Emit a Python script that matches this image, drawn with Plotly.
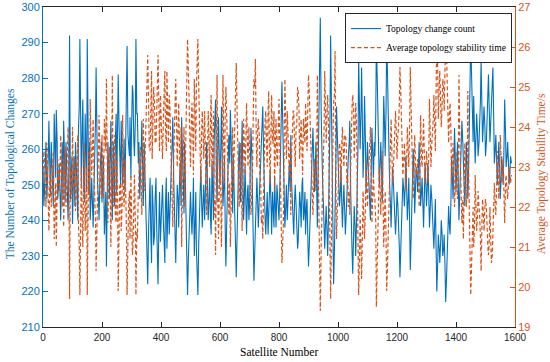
import plotly.graph_objects as go

# Topology change count, read every 5 satellites (0, 5, 10, ...)
topology_changes = [
    255,248,262,250,268,247,258,244,262,271,246,256,240,262,268,245,255,240,292,252,
    239,258,262,248,265,291,250,274,245,262,291,248,240,252,238,256,283,250,240,255,
    245,258,240,227,262,246,268,240,255,262,248,281,258,268,250,263,258,289,262,269,
    265,276,258,291,270,262,250,268,244,255,236,222,245,238,250,233,246,240,222,248,
    238,250,236,244,232,248,240,255,269,245,228,250,238,256,269,250,262,240,219,236,
    248,236,252,240,232,219,242,255,238,250,245,262,240,252,236,248,262,274,245,269,
    250,272,244,258,227,250,264,271,248,258,240,224,250,262,245,268,240,255,236,250,
    244,266,250,223,240,252,238,250,262,272,246,236,248,240,254,236,244,252,238,246,
    240,262,279,258,238,250,245,256,264,244,236,250,240,234,248,238,252,242,236,246,
    227,240,256,266,248,262,238,268,297,258,246,232,244,230,252,292,255,222,240,272,
    258,244,255,238,250,236,248,258,268,236,225,244,230,248,286,260,283,252,275,248,
    262,248,240,266,252,258,290,270,250,262,245,275,258,292,268,250,238,255,244,236,
    248,240,224,238,252,244,258,240,252,226,246,260,242,255,248,262,244,252,238,256,
    244,256,238,250,240,232,246,220,236,228,240,230,236,217,232,244,236,258,246,266,
    248,262,240,256,268,258,244,262,246,266,291,268,275,256,270,258,266,285,262,272,
    258,268,281,262,272,283,256,264,250,262,246,258,250,274,255,262,250,258,
]
# Topology change count, read at the satellites in between (3, 8, 13, ...)
topology_changes_between = [
    244,256,246,258,255,262,250,270,252,262,250,248,252,246,258,262,250,256,246,258,
    250,244,255,240,272,258,266,250,270,248,256,262,246,244,250,268,262,246,252,262,
    252,236,248,250,254,258,250,262,244,270,262,266,250,260,256,248,270,264,258,252,
    278,262,268,270,256,246,260,252,262,240,230,238,252,228,244,236,252,230,240,234,
    246,240,228,252,240,236,250,262,252,236,242,246,252,244,258,242,250,232,230,244,
    240,244,230,248,226,234,250,244,246,240,254,248,246,240,256,240,268,252,262,256,
    262,254,250,236,240,258,256,262,242,250,232,240,256,248,258,250,248,244,248,240,
    256,258,236,232,248,244,246,256,268,258,240,244,236,250,244,248,238,244,250,240,
    250,270,266,246,244,240,252,248,250,240,246,244,232,240,244,250,240,248,244,234,
    234,250,262,256,254,248,256,282,270,250,238,240,236,242,270,268,236,232,258,262,
    250,248,244,246,242,242,254,262,248,230,236,238,240,262,272,270,266,262,262,256,
    254,244,256,258,262,270,280,262,256,254,262,266,272,280,258,244,248,250,240,242,
    244,232,230,246,248,250,248,246,238,236,254,252,250,252,256,252,248,244,248,250,
    250,246,244,246,236,240,230,228,232,234,236,232,226,224,240,238,246,252,256,256,
    256,250,248,262,262,252,254,254,256,276,280,262,266,264,264,262,274,270,268,266,
    262,272,270,268,276,268,260,256,256,254,252,254,262,264,258,256,254,256,
]

# Average topology stability time (s), read every 5 satellites (0, 5, 10, ...)
stability_time = [
    22.6,23.2,22.0,23.0,21.4,23.1,22.3,23.4,22.0,21.0,23.2,22.4,23.8,22.0,21.5,23.5,22.6,24.0,19.7,22.8,
    24.0,22.4,21.9,23.2,21.6,19.8,23.0,21.0,23.6,22.0,19.8,23.4,24.7,22.8,24.2,22.4,20.4,23.0,24.3,22.6,
    23.8,22.2,24.0,25.2,21.6,23.5,21.0,25.3,22.8,21.8,23.3,19.9,22.5,21.4,24.3,22.0,22.6,19.8,22.0,21.2,
    22.0,21.0,22.8,19.8,21.2,22.6,23.5,21.8,24.2,23.0,24.8,25.8,23.5,24.6,23.2,25.0,23.6,24.2,25.8,23.4,
    24.4,23.2,25.0,24.0,25.4,23.6,24.5,22.8,21.5,23.8,25.2,23.0,24.6,22.6,21.0,23.2,22.0,24.4,26.2,24.6,
    23.0,24.6,22.8,24.2,25.0,26.2,24.0,22.6,24.4,23.2,23.8,21.8,24.4,23.0,24.8,23.4,21.8,20.8,25.3,21.2,
    23.2,21.0,25.3,22.6,25.0,23.0,21.8,21.0,23.4,22.4,24.2,25.6,23.2,22.0,23.6,21.4,24.2,22.8,24.6,23.0,
    23.6,21.8,22.8,25.2,25.7,23.0,24.2,22.8,21.6,21.2,23.4,24.4,23.0,24.9,22.6,24.8,23.6,22.4,24.2,23.0,
    24.7,22.2,20.6,21.6,25.2,23.2,23.8,22.8,21.8,24.0,24.4,23.0,24.0,24.9,23.2,24.2,22.8,23.8,24.6,23.4,
    25.3,24.2,22.8,21.8,23.2,22.4,25.3,22.0,19.4,21.6,22.8,25.4,23.6,24.8,22.8,19.7,22.4,24.6,25.9,21.2,
    22.2,23.6,22.6,24.0,23.0,23.8,22.6,22.0,21.8,23.8,24.8,23.2,24.6,22.8,19.8,21.8,20.2,22.4,21.2,23.2,
    22.0,23.4,24.0,21.6,22.8,22.2,19.5,21.2,23.0,21.8,23.4,21.0,22.4,19.9,21.4,23.0,24.2,22.6,23.6,24.4,
    23.2,24.0,25.5,24.2,22.8,23.6,22.4,24.0,23.0,25.5,23.4,22.2,23.8,22.8,23.2,22.0,24.3,23.0,24.2,22.6,
    23.4,22.6,24.7,23.0,23.8,24.8,23.4,26.6,24.2,25.4,24.0,25.2,24.4,26.5,25.0,23.6,24.6,22.6,23.6,22.0,
    23.4,22.2,25.3,23.0,21.6,21.2,23.6,22.0,24.9,22.0,19.8,21.6,21.0,22.8,21.4,22.4,21.8,20.4,22.2,21.4,
    22.2,21.4,20.8,22.0,20.6,21.2,22.6,21.8,23.4,22.2,23.8,22.6,23.2,21.6,22.8,22.2,23.0,22.6,
]
# Average topology stability time (s), read at the satellites in between (3, 8, 13, ...)
stability_time_between = [
    23.4,22.4,23.6,22.2,22.6,22.0,22.8,21.2,22.6,22.2,22.8,23.0,22.6,23.2,22.4,22.0,23.0,22.6,23.0,22.2,
    22.6,23.2,22.4,23.8,21.0,22.2,21.6,22.8,21.4,23.0,22.6,22.2,23.4,23.6,22.8,21.6,22.0,23.4,22.8,22.2,
    22.8,24.2,23.4,23.0,23.0,22.4,23.2,22.0,23.8,21.6,22.2,21.8,22.6,22.0,22.4,23.2,21.4,21.8,22.4,22.8,
    20.8,22.0,21.6,21.4,22.4,23.4,22.6,23.0,22.4,24.0,25.0,24.6,23.4,25.4,24.2,24.6,23.6,25.0,24.4,24.8,
    23.6,24.2,25.4,23.4,24.6,24.8,23.6,22.4,23.2,24.8,24.0,24.0,23.4,24.0,22.6,24.0,23.4,25.2,25.4,24.0,
    24.2,23.8,25.2,23.4,25.6,25.0,23.4,24.0,23.8,24.4,22.8,23.4,23.6,24.2,22.8,24.4,22.2,23.0,22.0,22.6,
    22.2,22.8,23.4,24.4,24.2,22.4,22.6,22.0,24.0,23.2,25.0,24.4,22.6,23.4,22.4,23.0,23.4,23.8,23.6,24.0,
    22.6,22.4,24.4,25.0,23.6,24.0,23.8,22.6,21.8,22.4,24.2,23.8,24.4,23.2,24.0,23.6,24.4,23.8,23.2,24.2,
    23.4,21.4,21.2,24.0,24.0,24.4,23.0,23.6,23.4,24.4,23.8,24.0,25.0,24.4,23.8,23.4,24.2,23.6,23.8,24.6,
    24.8,23.2,22.2,22.6,22.8,23.4,23.0,20.6,21.0,22.6,24.0,24.2,24.4,24.0,21.4,21.4,23.8,24.8,22.4,22.0,
    23.2,23.4,23.6,23.4,23.8,23.6,22.8,22.4,23.0,24.6,24.4,24.2,24.0,21.8,20.8,21.0,21.4,21.6,22.0,22.4,
    22.8,23.6,22.6,22.4,22.2,21.6,20.6,22.0,22.4,22.8,22.0,21.8,21.2,20.6,22.6,23.6,23.4,23.0,24.0,23.8,
    23.8,24.6,24.8,23.4,23.2,23.0,23.2,23.4,24.2,24.4,22.8,23.0,23.0,22.8,22.6,23.0,23.2,23.6,23.2,23.0,
    23.0,23.4,23.8,23.6,24.2,24.0,25.2,25.4,25.0,24.6,24.6,25.0,25.6,25.8,24.2,24.4,23.8,23.2,22.8,22.6,
    22.8,23.2,23.6,22.4,22.2,22.6,22.8,22.6,22.8,20.8,20.6,22.0,21.6,21.8,21.8,22.0,21.2,21.6,21.8,22.0,
    22.0,21.0,21.2,21.4,20.8,22.0,22.0,22.6,22.8,23.0,23.2,22.8,22.2,22.6,22.4,22.6,22.8,22.8,
]

sat_main = [5 * i for i in range(len(topology_changes))]
sat_between = [5 * i + 3 for i in range(len(topology_changes_between))]

# merge both readings in satellite order
pairs_blue = sorted(zip(sat_main + sat_between, topology_changes + topology_changes_between))
pairs_red = sorted(zip(sat_main + sat_between, stability_time + stability_time_between))
sat_x = [p[0] for p in pairs_blue]
blue_y = [p[1] for p in pairs_blue]
red_y = [p[1] for p in pairs_red]

x_ticks = [0, 200, 400, 600, 800, 1000, 1200, 1400, 1600]
left_ticks = [210, 220, 230, 240, 250, 260, 270, 280, 290, 300]
right_ticks = [19, 20, 21, 22, 23, 24, 25, 26, 27]

BLUE = "#0072BD"
RED = "#D95319"
DARK = "#262626"
SANS = "Liberation Sans, Arial, sans-serif"
SERIF = "Liberation Serif, Times New Roman, serif"

fig = go.Figure()
fig.add_trace(go.Scatter(
    x=sat_x, y=blue_y, mode="lines",
    name="Topology change count",
    line=dict(color=BLUE, width=1.1), yaxis="y",
))
fig.add_trace(go.Scatter(
    x=sat_x, y=red_y, mode="lines",
    name="Average topology stability time",
    line=dict(color=RED, width=1.2, dash="4px,2.5px"), yaxis="y2",
))

fig.update_layout(
    width=550, height=362,
    margin=dict(l=43, r=35, t=7, b=35, autoexpand=False),
    paper_bgcolor="white", plot_bgcolor="white",
    showlegend=True,
    legend=dict(
        x=0.9936, y=0.981, xanchor="right", yanchor="top",
        bgcolor="white", bordercolor=DARK, borderwidth=1,
        font=dict(family=SERIF, size=9.5, color="black"),
        tracegroupgap=0, itemwidth=30,
    ),
    xaxis=dict(
        range=[0, 1600], tickvals=x_ticks, ticks="inside", ticklen=5,
        tickcolor=DARK, showline=True, linecolor=DARK, linewidth=1,
        mirror="ticks", showgrid=False, zeroline=False, automargin=False,
        ticklabelstandoff=1,
        tickfont=dict(family=SANS, size=10, color=DARK),
    ),
    yaxis=dict(
        range=[210, 300], tickvals=left_ticks, ticks="inside", ticklen=5,
        tickcolor=BLUE, showline=True, linecolor=BLUE, linewidth=1,
        showgrid=False, zeroline=False, automargin=False,
        tickfont=dict(family=SANS, size=11, color=BLUE),
    ),
    yaxis2=dict(
        range=[19, 27], tickvals=right_ticks, ticks="inside", ticklen=5,
        tickcolor=RED, showline=True, linecolor=RED, linewidth=1,
        overlaying="y", side="right", anchor="x",
        showgrid=False, zeroline=False, automargin=False,
        tickfont=dict(family=SANS, size=11, color=RED),
    ),
    annotations=[
        dict(text="The Number of Topological Changes", xref="paper", yref="paper",
             x=-0.070, y=0.48, xanchor="center", yanchor="middle", textangle=-90,
             showarrow=False, font=dict(family=SERIF, size=11.5, color=BLUE)),
        dict(text="Average Topology Stability Time/s", xref="paper", yref="paper",
             x=1.055, y=0.48, xanchor="center", yanchor="middle", textangle=-90,
             showarrow=False, font=dict(family=SERIF, size=11.5, color=RED)),
        dict(text="Satellite Number", xref="paper", yref="paper",
             x=0.5, y=-0.078, xanchor="center", yanchor="middle",
             showarrow=False, font=dict(family=SERIF, size=11.5, color="black")),
    ],
)

fig.write_html("out.html", config={"displayModeBar": False},
               post_script="document.body.style.margin='0px';")
